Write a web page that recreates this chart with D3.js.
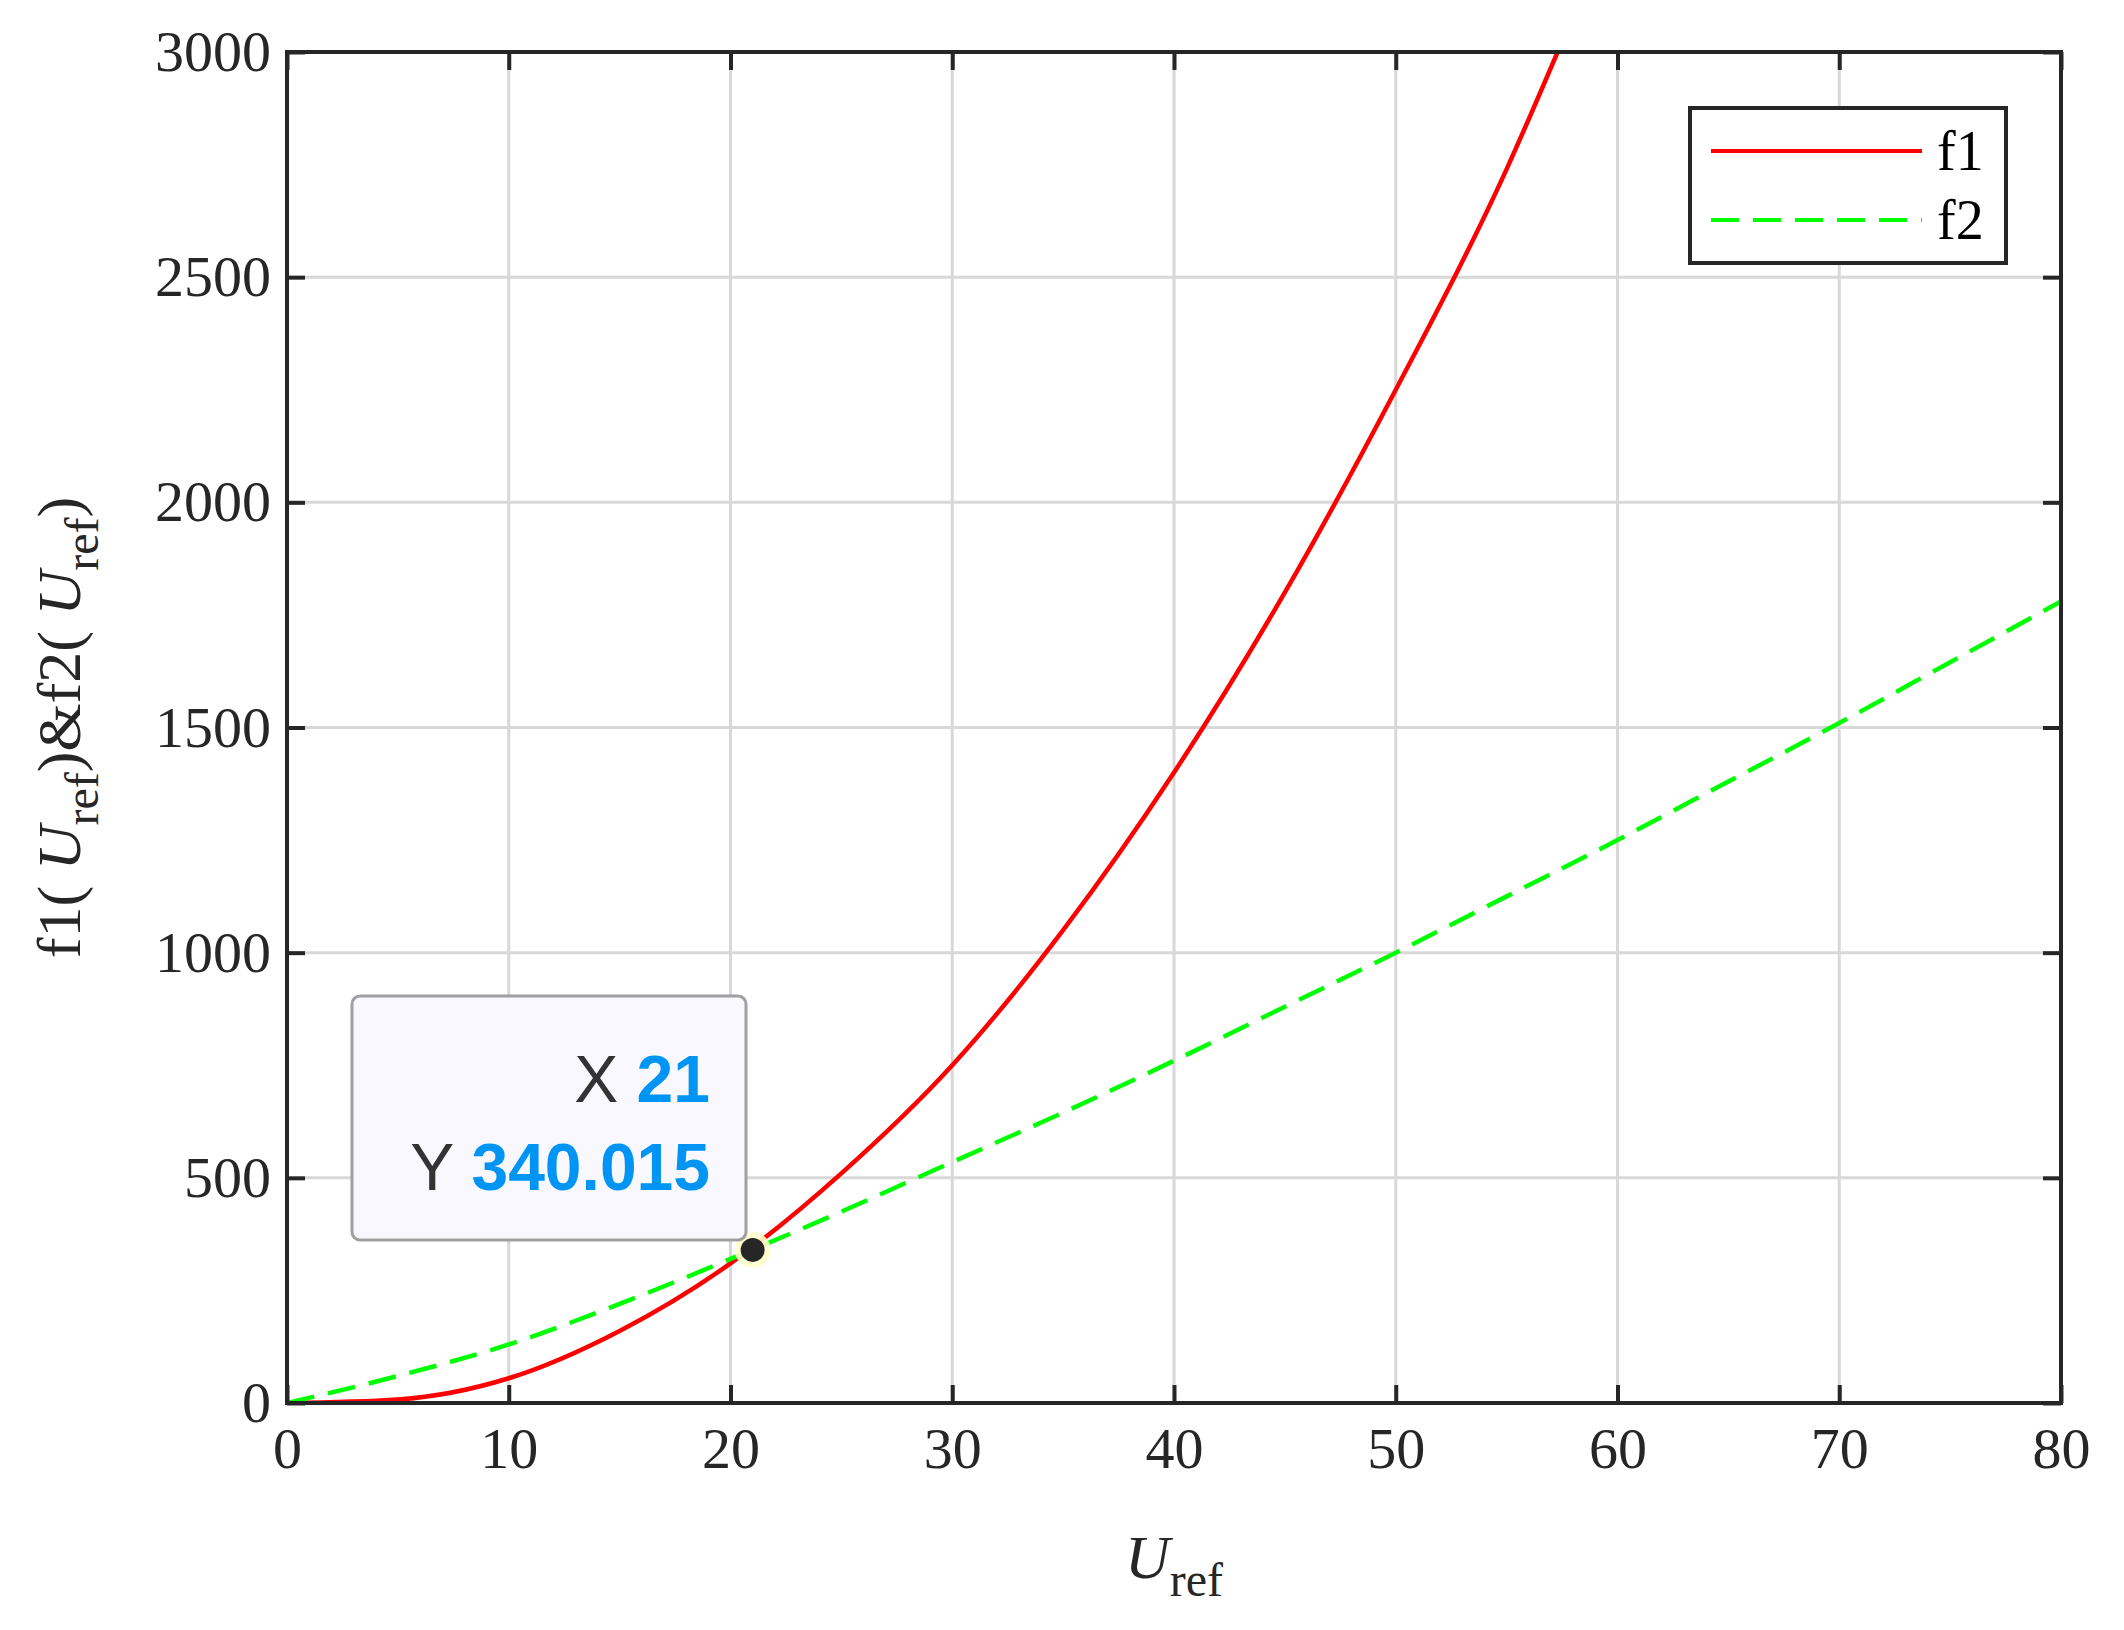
<!DOCTYPE html>
<html><head><meta charset="utf-8">
<script src="https://cdn.jsdelivr.net/npm/d3@7"></script>
<style>body{margin:0;background:#fff}</style></head>
<body><svg id="c" width="2124" height="1630"></svg>
<script>
// data
const f1X = [0, 5, 10, 15, 20, 25, 30, 35, 40, 45, 50, 55, 57.3];
const f1Y = [0, 8, 55, 160, 310, 510, 750, 1050, 1400, 1800, 2250, 2740, 3000];
const f2X = [0, 5, 10, 15, 20, 25, 30, 35, 40, 45, 50, 55, 60, 65, 70, 75, 80];
const f2Y = [0, 60, 130, 220, 320, 425, 535, 645, 760, 880, 1000, 1125, 1250, 1380, 1510, 1645, 1780];
const xTicks = [0, 10, 20, 30, 40, 50, 60, 70, 80];
const yTicks = [0, 500, 1000, 1500, 2000, 2500, 3000];
const tipX = 21, tipY = 340.015;

const L = 287, R = 2061, T = 52, B = 1403;
const svg = d3.select("#c");
const x = d3.scaleLinear().domain([0, 80]).range([L, R]);
const y = d3.scaleLinear().domain([0, 3000]).range([B, T]);
const serif = "'Liberation Serif', 'Times New Roman', serif";
const ink = "#262626";

// grid
svg.append("g").selectAll("line").data(xTicks).join("line")
  .attr("x1", d => x(d)).attr("x2", d => x(d)).attr("y1", T).attr("y2", B)
  .attr("stroke", "#d8d8d8").attr("stroke-width", 3);
svg.append("g").selectAll("line").data(yTicks).join("line")
  .attr("y1", d => y(d)).attr("y2", d => y(d)).attr("x1", L).attr("x2", R)
  .attr("stroke", "#d8d8d8").attr("stroke-width", 3);

// curves
svg.append("clipPath").attr("id", "cl").append("rect")
  .attr("x", L).attr("y", T).attr("width", R - L).attr("height", B - T);
const line = d3.line().x(d => x(d[0])).y(d => y(d[1])).curve(d3.curveMonotoneX);
svg.append("path").datum(f1X.map((v, i) => [v, f1Y[i]])).attr("d", line)
  .attr("clip-path", "url(#cl)")
  .attr("fill", "none").attr("stroke", "#ff0000").attr("stroke-width", 4.5);
svg.append("path").datum(f2X.map((v, i) => [v, f2Y[i]])).attr("d", line)
  .attr("clip-path", "url(#cl)")
  .attr("fill", "none").attr("stroke", "#00ff00").attr("stroke-width", 4.5)
  .attr("stroke-dasharray", "28,14");

// axes
const ax = (g, axis) => {
  g.call(axis);
  g.select(".domain").remove();
  g.selectAll("line").attr("stroke", ink).attr("stroke-width", 4);
  g.selectAll("text").attr("fill", ink).attr("font-family", serif).attr("font-size", 58);
};
const fmt = d3.format("d");
svg.append("g").attr("transform", `translate(0,${B})`)
  .call(g => ax(g, d3.axisBottom(x).tickValues(xTicks).tickSize(-18).tickPadding(24).tickFormat(fmt)));
svg.append("g").attr("transform", `translate(0,${T})`)
  .call(g => ax(g, d3.axisTop(x).tickValues(xTicks).tickSize(-18).tickFormat("")));
svg.append("g").attr("transform", `translate(${L},0)`)
  .call(g => ax(g, d3.axisLeft(y).tickValues(yTicks).tickSize(-18).tickPadding(16).tickFormat(fmt)));
svg.append("g").attr("transform", `translate(${R},0)`)
  .call(g => ax(g, d3.axisRight(y).tickValues(yTicks).tickSize(-18).tickFormat("")));
svg.append("rect").attr("x", L).attr("y", T).attr("width", R - L).attr("height", B - T)
  .attr("fill", "none").attr("stroke", ink).attr("stroke-width", 4);

// axis labels
const xl = svg.append("text").attr("x", (L + R) / 2).attr("y", 1578)
  .attr("text-anchor", "middle").attr("font-family", serif).attr("font-size", 62).attr("fill", ink);
xl.append("tspan").attr("font-style", "italic").text("U");
xl.append("tspan").attr("font-size", 48).attr("dy", 18).text("ref");
const yl = svg.append("text").attr("transform", `translate(80,${(T + B) / 2}) rotate(-90)`)
  .attr("text-anchor", "middle").attr("font-family", serif).attr("font-size", 62).attr("fill", ink);
yl.append("tspan").text("f1( ");
yl.append("tspan").attr("font-style", "italic").text("U");
yl.append("tspan").attr("font-size", 48).attr("dy", 18).text("ref");
yl.append("tspan").attr("dy", -18).text(")&f2( ");
yl.append("tspan").attr("font-style", "italic").text("U");
yl.append("tspan").attr("font-size", 48).attr("dy", 18).text("ref");
yl.append("tspan").attr("dy", -18).text(")");

// legend
const lg = svg.append("g");
lg.append("rect").attr("x", 1690).attr("y", 108).attr("width", 316).attr("height", 155)
  .attr("fill", "#fff").attr("stroke", ink).attr("stroke-width", 4);
[["f1", "#ff0000", null, 151], ["f2", "#00ff00", "28,14", 220]].forEach(([n, c, da, yy]) => {
  lg.append("line").attr("x1", 1711).attr("x2", 1922).attr("y1", yy).attr("y2", yy)
    .attr("stroke", c).attr("stroke-width", 4).attr("stroke-dasharray", da);
  lg.append("text").attr("x", 1937).attr("y", yy + 19).attr("font-family", serif)
    .attr("font-size", 56).attr("fill", "#000").text(n);
});

// datatip
svg.append("circle").attr("cx", x(tipX)).attr("cy", y(tipY)).attr("r", 18)
  .attr("fill", "#ffffcc").attr("opacity", 0.9);
svg.append("circle").attr("cx", x(tipX)).attr("cy", y(tipY)).attr("r", 12).attr("fill", "#262626");
svg.append("rect").attr("x", 352).attr("y", 996).attr("width", 394).attr("height", 244).attr("rx", 8)
  .attr("fill", "#f8f8fe").attr("stroke", "#a0a0a0").attr("stroke-width", 3);
const sans = "'Liberation Sans', Arial, sans-serif";
[["X ", String(tipX), 1102], ["Y ", String(tipY), 1190]].forEach(([a, b, yy]) => {
  const t = svg.append("text").attr("x", 710).attr("y", yy).attr("text-anchor", "end")
    .attr("font-family", sans).attr("font-size", 66);
  t.append("tspan").attr("fill", "#333").text(a);
  t.append("tspan").attr("fill", "#0095f5").attr("font-weight", "bold").text(b);
});
</script></body></html>
